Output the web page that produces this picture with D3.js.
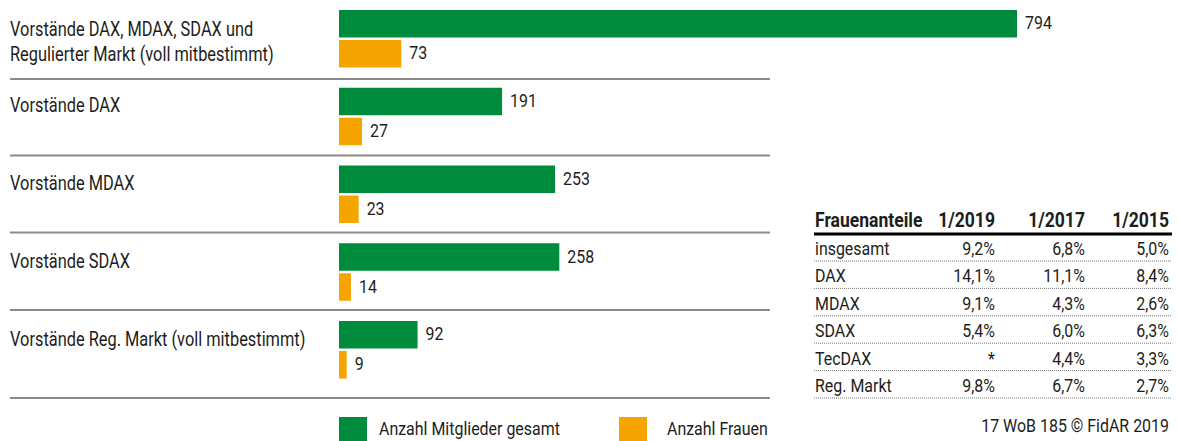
<!DOCTYPE html>
<html>
<head>
<meta charset="utf-8">
<script src="https://cdn.jsdelivr.net/npm/d3@7"></script>
<style>
  html, body { margin: 0; padding: 0; background: #fff; }
  svg { display: block; }
  text { font-family: Roboto, "Noto Sans", "DejaVu Sans", sans-serif; fill: #1d1d1b; }
</style>
</head>
<body>
<svg id="chart" width="1178" height="441"></svg>
<script>
// ---- data ----
const categories = [
  ["Vorstände DAX, MDAX, SDAX und", "Regulierter Markt (voll mitbestimmt)"],
  ["Vorstände DAX"],
  ["Vorstände MDAX"],
  ["Vorstände SDAX"],
  ["Vorstände Reg. Markt (voll mitbestimmt)"]
];
const totalMembers = [794, 191, 253, 258, 92];
const womenMembers = [73, 27, 23, 14, 9];
const seriesNames = ["Anzahl Mitglieder gesamt", "Anzahl Frauen"];

const tableHeader = ["Frauenanteile", "1/2019", "1/2017", "1/2015"];
const tableRows = ["insgesamt", "DAX", "MDAX", "SDAX", "TecDAX", "Reg. Markt"];
const share2019 = ["9,2%", "14,1%", "9,1%", "5,4%", "*", "9,8%"];
const share2017 = ["6,8%", "11,1%", "4,3%", "6,0%", "4,4%", "6,7%"];
const share2015 = ["5,0%", "8,4%", "2,6%", "6,3%", "3,3%", "2,7%"];
const sourceNote = "17 WoB 185 © FidAR 2019";

// ---- styles ----
const GREEN = "#008b3d", ORANGE = "#f6a500", RULE = "#8a8a8a";
const SX = 0.84; // horizontal condensing of the text face

const svg = d3.select("#chart");

function txt(g, x, y, s, o = {}) {
  return g.append("text")
    .attr("transform", `translate(${x},${y}) scale(${o.sx || SX},1)`)
    .attr("text-anchor", o.anchor || "start")
    .attr("font-weight", o.weight || "normal")
    .attr("font-size", o.size || 19)
    .text(s);
}

// scales
const idx = categories.map((d, i) => i);
const x = d3.scaleLinear().domain([0, 794]).range([339, 1017]);
const y = d3.scaleBand().domain(idx).range([10, 10 + 77.75 * 5]);
const barH = 27.5, barGap = 2.5;

// separators
const sepY = [79, 155.5, 232.5, 310, 398];
svg.append("g").selectAll("line").data(idx).join("line")
  .attr("x1", 10).attr("x2", 770)
  .attr("y1", i => sepY[i]).attr("y2", i => sepY[i])
  .attr("stroke", RULE).attr("stroke-width", 2);

// category labels
const labG = svg.append("g");
idx.forEach(i => {
  const lines = categories[i];
  lines.forEach((l, j) => txt(labG, 10, y(i) + (lines.length > 1 ? 26 : 24.5) + j * 25, l, { size: 19.5 }));
});

// bars
const barsG = svg.append("g");
barsG.selectAll("rect.total").data(idx).join("rect").attr("class", "total")
  .attr("x", x(0)).attr("y", i => y(i))
  .attr("width", i => x(totalMembers[i]) - x(0)).attr("height", barH)
  .attr("fill", GREEN);
barsG.selectAll("rect.women").data(idx).join("rect").attr("class", "women")
  .attr("x", x(0)).attr("y", i => y(i) + barH + barGap)
  .attr("width", i => x(womenMembers[i]) - x(0)).attr("height", barH)
  .attr("fill", ORANGE);

// value labels
idx.forEach(i => {
  txt(barsG, x(totalMembers[i]) + 8, y(i) + barH / 2 + 5.5, totalMembers[i], { size: 19 });
  txt(barsG, x(womenMembers[i]) + 8, y(i) + barH + barGap + barH / 2 + 5.5, womenMembers[i], { size: 19 });
});

// legend
const legG = svg.append("g");
const legX = [339, 619];
const legTextX = [379, 667];
const legColors = [GREEN, ORANGE];
seriesNames.forEach((n, i) => {
  legG.append("rect").attr("x", legX[i]).attr("y", 417).attr("width", 28).attr("height", 28).attr("fill", legColors[i]);
  txt(legG, legTextX[i], 435, n, { size: 19 });
});

// table
const tG = svg.append("g");
const colX = [815, 995, 1085, 1169];
const headY = 227;
tableHeader.forEach((h, j) => {
  txt(tG, colX[j], headY, h, { anchor: j === 0 ? "start" : "end", weight: "bold", size: 19.5, sx: 0.9 });
});
tG.append("line").attr("x1", 814).attr("x2", 1172).attr("y1", 234).attr("y2", 234)
  .attr("stroke", "#000").attr("stroke-width", 3);
const rowY = d3.scaleLinear().domain([0, 1]).range([255, 282.4]);
const cols = [tableRows, share2019, share2017, share2015];
tableRows.forEach((r, i) => {
  cols.forEach((c, j) => {
    txt(tG, colX[j], rowY(i), c[i], { anchor: j === 0 ? "start" : "end", size: 19 });
  });
  const ly = rowY(i) + 6;
  tG.append("line").attr("x1", 814).attr("x2", 1172).attr("y1", ly).attr("y2", ly)
    .attr("stroke", "#777").attr("stroke-width", 1).attr("stroke-dasharray", "1,1");
});

// source
txt(svg, 1169, 432, sourceNote, { anchor: "end", size: 19 });
</script>
</body>
</html>
